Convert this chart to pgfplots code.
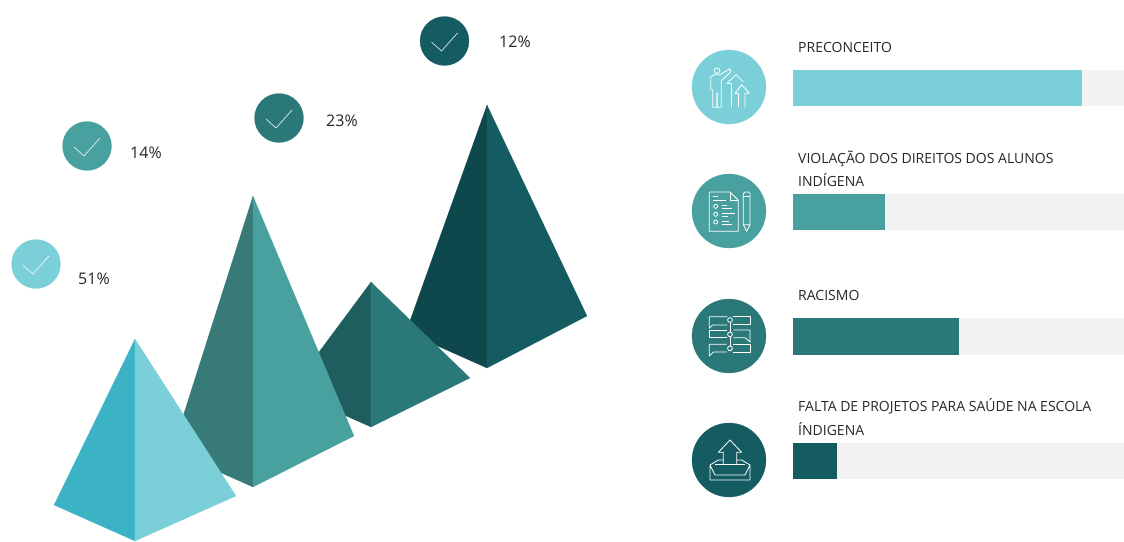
\documentclass[border=0pt]{standalone}
\usepackage{fontspec}
\setmainfont{Open Sans}
\usepackage{pgfplots}
\pgfplotsset{compat=1.18}

\definecolor{tealA}{HTML}{7BCFD8}
\definecolor{tealAd}{HTML}{3BB3C5}
\definecolor{tealB}{HTML}{49A19F}
\definecolor{tealBd}{HTML}{377A77}
\definecolor{tealC}{HTML}{2A7978}
\definecolor{tealCd}{HTML}{1F5E5E}
\definecolor{tealD}{HTML}{145C61}
\definecolor{tealDd}{HTML}{0F484C}
\definecolor{track}{HTML}{F2F2F2}
\definecolor{ink}{HTML}{262626}

% One filled polygon in page coordinates
\newcommand{\face}[2]{\addplot[fill=#1,draw=#1,line width=0.1pt] coordinates {#2} -- cycle;}
% One thin white stroke of a pictogram, given on an 80-unit grid at three steps per pixel
\newcommand{\stroke}[3]{\addplot[white!90!black!0!white,line width=0.8pt,line join=round,
  x filter/.expression={#1+x/3},y filter/.expression={#2+y/3}] coordinates {#3};}
\newcommand{\ring}[4]{\addplot[only marks,mark=o,mark size=#3,
  mark options={draw=white,line width=0.8pt,fill=none},
  x filter/.expression={#1+x/3},y filter/.expression={#2+y/3}] coordinates {#4};}
% A coloured disc
\newcommand{\disc}[4]{\addplot[only marks,mark=*,mark size=#4,
  mark options={draw=#3,line width=0.2pt,fill=#3}] coordinates {(#1,#2)};}
% Tick inside a small disc
\newcommand{\tick}[3]{\addplot[white!85!#3,line width=0.7pt,
  x filter/.expression={#1+x},y filter/.expression={#2+y}] coordinates {(-13,1) (-3,10) (13,-8)};}

\begin{document}
\begin{tikzpicture}
\path[use as bounding box] (0,0) rectangle (1124pt,541pt);
\begin{axis}[
  at={(0,0)},anchor=south west,
  width=1124pt,height=541pt,scale only axis,
  xmin=0,xmax=1124,ymin=0,ymax=541,y dir=reverse,
  hide axis,clip=true,clip mode=individual,
  nodes={font=\fontsize{14}{16}\selectfont,text=ink},
]
% Pyramids, back to front
\face{tealDd}{(487,105) (406,332) (487,368)}
\face{tealD}{(487,105) (487,368) (587,316)}
\face{tealCd}{(371,282) (290,391) (371,427)}
\face{tealC}{(371,282) (371,427) (470,378)}
\face{tealBd}{(253,196) (172,451) (253,487)}
\face{tealB}{(253,196) (253,487) (354,436)}
\face{tealAd}{(135,339) (54,505) (135,541)}
\face{tealA}{(135,339) (135,541) (236,496)}

% Share discs
\disc{444.5}{41}{tealD}{24.5} \tick{444.5}{41}{tealD}
\disc{279}{118}{tealC}{24.5}  \tick{279}{118}{tealC}
\disc{87}{146}{tealB}{24.5}   \tick{87}{146}{tealB}
\disc{36}{264}{tealA}{24.5}   \tick{36}{264}{tealA}

\node[anchor=west,inner sep=0pt,font=\fontsize{16}{18}\selectfont] at (axis cs:499,42) {12\%};
\node[anchor=west,inner sep=0pt,font=\fontsize{16}{18}\selectfont] at (axis cs:326,121) {23\%};
\node[anchor=west,inner sep=0pt,font=\fontsize{16}{18}\selectfont] at (axis cs:130,153) {14\%};
\node[anchor=west,inner sep=0pt,font=\fontsize{16}{18}\selectfont] at (axis cs:78,279) {51\%};

% Tracks and bars
\face{track}{(793,70) (1124,70) (1124,105) (793,105)}
\face{track}{(793,194) (1124,194) (1124,229) (793,229)}
\face{track}{(793,318) (1124,318) (1124,354) (793,354)}
\face{track}{(793,443) (1124,443) (1124,478) (793,478)}
\face{tealA}{(793,70) (1081,70) (1081,105) (793,105)}
\face{tealB}{(793,194) (884,194) (884,229) (793,229)}
\face{tealC}{(793,318) (958,318) (958,354) (793,354)}
\face{tealD}{(793,443) (836,443) (836,478) (793,478)}

% Bar captions
\node[anchor=base west,inner sep=0pt] at (axis cs:798,52) {PRECONCEITO};
\node[anchor=base west,inner sep=0pt] at (axis cs:798,163) {VIOLAÇÃO DOS DIREITOS DOS ALUNOS};
\node[anchor=base west,inner sep=0pt] at (axis cs:798,186) {INDÍGENA};
\node[anchor=base west,inner sep=0pt] at (axis cs:798,300) {RACISMO};
\node[anchor=base west,inner sep=0pt] at (axis cs:798,411) {FALTA DE PROJETOS PARA SAÚDE NA ESCOLA};
\node[anchor=base west,inner sep=0pt] at (axis cs:798,435) {ÍNDIGENA};

% Category discs
\disc{729}{87}{tealA}{37}
\disc{729}{211}{tealB}{37}
\disc{729}{336}{tealC}{37}
\disc{729}{460}{tealD}{37}

% Presenter with rising arrows
\ring{690}{48}{2.8}{(81,68)}
\stroke{690}{48}{(74,80) (62,86) (62,125) (68,125) (68,178) (80,178) (80,135) (82,135) (82,178) (94,178) (94,98) (122,72) (120,62) (90,80) (74,80)}
\stroke{690}{48}{(112,105) (138,80) (160,102)}
\stroke{690}{48}{(112,105) (125,105) (125,178)}
\stroke{690}{48}{(135,136) (155,110) (178,136) (165,136) (165,178)}
\stroke{690}{48}{(135,136) (145,136) (145,178)}

% Checklist and pencil
\stroke{690}{172}{(58,60) (120,60) (145,85) (145,178) (58,178) (58,60)}
\stroke{690}{172}{(120,60) (120,85) (145,85)}
\stroke{690}{172}{(70,72) (85,72)}
\stroke{690}{172}{(70,84) (108,84)}
\ring{690}{172}{2}{(77,103) (77,127) (77,150)}
\stroke{690}{172}{(95,100) (112,100)}
\stroke{690}{172}{(95,108) (125,108)}
\stroke{690}{172}{(95,124) (135,124)}
\stroke{690}{172}{(95,132) (115,132)}
\stroke{690}{172}{(95,148) (118,148)}
\stroke{690}{172}{(95,158) (125,158)}
\stroke{690}{172}{(160,158) (160,65) (165,60) (175,60) (180,65) (180,158) (170,178) (160,158) (180,158)}
\stroke{690}{172}{(160,72) (180,72)}

% Linked speech bubbles
\stroke{690}{296}{(120,79) (120,108)}
\stroke{690}{296}{(120,122) (120,150)}
\ring{690}{296}{2.4}{(120,72) (120,115) (120,157)}
\stroke{690}{296}{(112,62) (58,62) (58,97) (68,87) (112,87)}
\stroke{690}{296}{(130,60) (180,60) (180,85) (130,85)}
\stroke{690}{296}{(112,103) (58,103) (58,125) (112,125)}
\stroke{690}{296}{(130,102) (180,102) (180,138) (165,125) (130,125)}
\stroke{690}{296}{(110,145) (58,145) (58,180) (70,168) (110,168)}
\stroke{690}{296}{(130,145) (180,145) (180,168) (130,168)}

% Tray with outgoing arrow
\stroke{690}{420}{(100,133) (100,97) (85,97) (120,60) (155,97) (140,97) (140,133)}
\stroke{690}{420}{(76,133) (164,133)}
\stroke{690}{420}{(60,135) (60,180) (180,180) (180,135) (165,165) (75,165) (60,135)}
\stroke{690}{420}{(60,135) (85,120) (100,120)}
\stroke{690}{420}{(180,135) (155,120) (140,120)}
\end{axis}
\end{tikzpicture}
\end{document}
